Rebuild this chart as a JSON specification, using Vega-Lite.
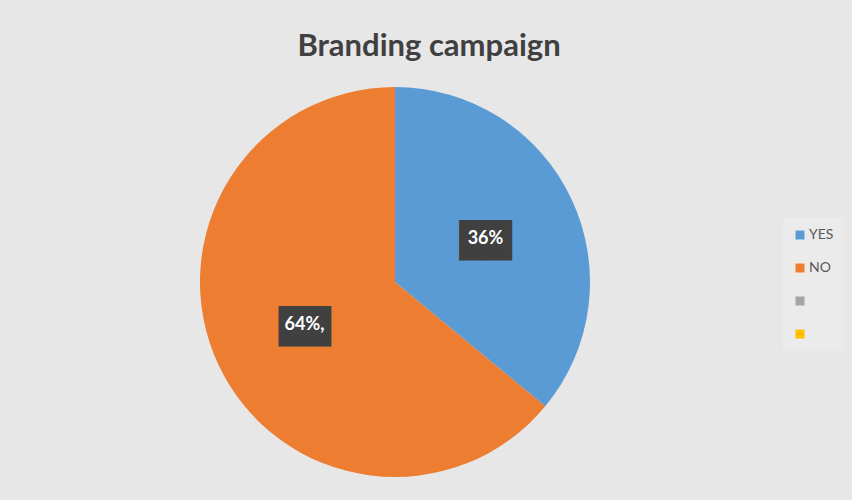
{
  "$schema": "https://vega.github.io/schema/vega-lite/v6.json",
  "autosize": {"type": "none"},
  "width": 790,
  "height": 430,
  "padding": {"left": 0, "top": 67, "right": 62, "bottom": 3},
  "background": "#e7e7e7",
  "title": {
    "text": "Branding campaign",
    "font": "Lato",
    "fontSize": 31,
    "fontWeight": "bold",
    "color": "#404040",
    "anchor": "middle",
    "dx": 34,
    "baseline": "alphabetic",
    "offset": -20
  },
  "config": {"view": {"stroke": null}},
  "data": {
    "values": [
      {"answer": "YES", "share": 36, "label": "36%"},
      {"answer": "NO", "share": 64, "label": "64%,"},
      {"answer": "C3", "share": 0, "label": ""},
      {"answer": "C4", "share": 0, "label": ""}
    ]
  },
  "encoding": {
    "theta": {"field": "share", "type": "quantitative", "stack": true},
    "order": {"field": "answer", "sort": "descending"}
  },
  "layer": [
    {
      "mark": {"type": "arc", "outerRadius": 195},
      "encoding": {
        "color": {
          "field": "answer",
          "type": "nominal",
          "scale": {
            "domain": ["YES", "NO", "C3", "C4"],
            "range": ["#5B9BD5", "#ED7D31", "#A5A5A5", "#FFC000"]
          },
          "legend": {
            "title": null,
            "orient": "none",
            "legendX": 783,
            "legendY": 151,
            "symbolType": "square",
            "symbolSize": 81,
            "symbolStrokeWidth": 0,
            "labelFont": "Lato",
            "labelFontSize": 14,
            "labelColor": "#595959",
            "labelOffset": 2,
            "rowPadding": 19,
            "padding": 10,
            "fillColor": "#ebebeb",
            "labelExpr": "datum.label == 'YES' || datum.label == 'NO' ? datum.label : ''"
          }
        }
      }
    },
    {
      "transform": [{"filter": "datum.share > 0"}],
      "mark": {"type": "text", "radius": 100, "text": "██", "font": "DejaVu Sans", "fontSize": 34, "color": "#404040", "baseline": "middle", "align": "center", "dy": 3}
    },
    {
      "transform": [{"filter": "datum.share > 0"}],
      "mark": {"type": "text", "radius": 100, "font": "Lato", "fontSize": 18, "fontWeight": "bold", "color": "#ffffff", "baseline": "middle", "align": "center"},
      "encoding": {"text": {"field": "label"}}
    }
  ]
}
